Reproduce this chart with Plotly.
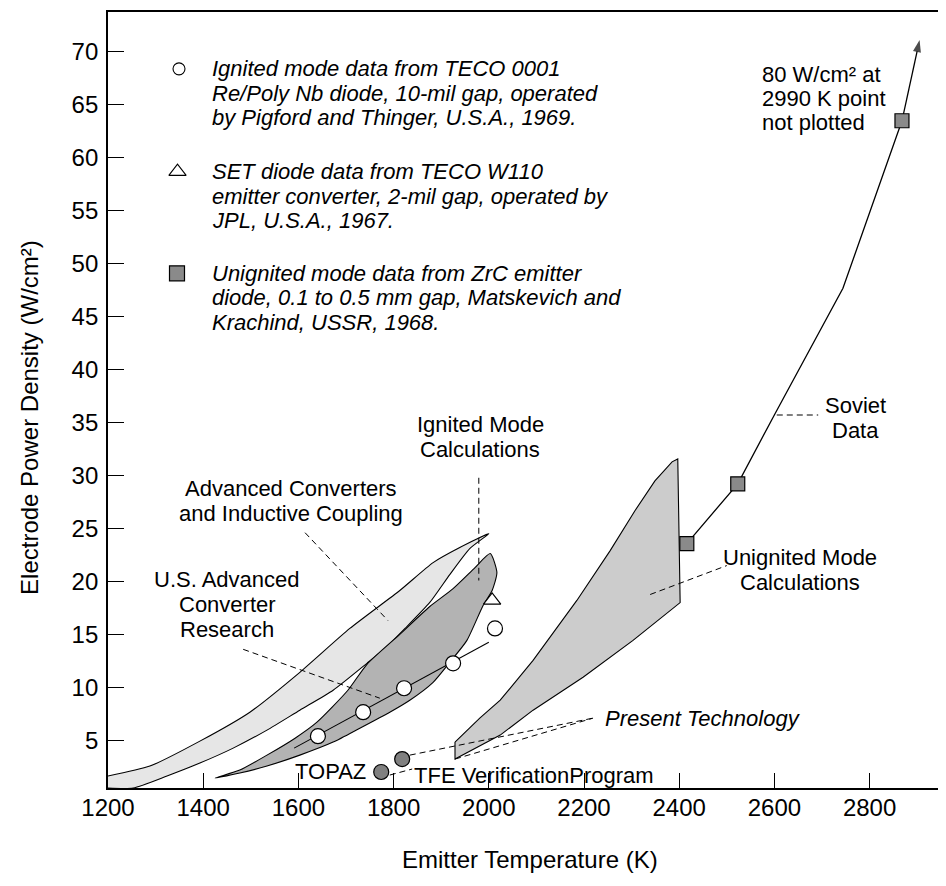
import plotly.graph_objects as go

# ---------------- data (K, W/cm^2) ----------------
x_ticks = [1200, 1400, 1600, 1800, 2000, 2200, 2400, 2600, 2800]
y_ticks = [5, 10, 15, 20, 25, 30, 35, 40, 45, 50, 55, 60, 65, 70]

# Advanced converters and inductive coupling (light band)
adv_upper_x = [1200, 1288, 1393, 1498, 1603, 1708, 1813, 1883, 1939, 2000]
adv_upper_y = [1.63, 2.57, 4.92, 7.65, 11.41, 15.55, 19.13, 21.76, 23.18, 24.49]
adv_lower_x = [1960, 1918, 1876, 1824, 1782, 1744, 1673, 1603, 1534, 1463, 1393, 1324, 1253, 1200]
adv_lower_y = [23.08, 20.63, 18.0, 15.55, 13.67, 12.26, 9.72, 7.84, 5.96, 4.26, 2.85, 1.63, 0.5, 0.5]

# Ignited mode calculations (dark band)
ign_upper_x = [1425, 1477, 1534, 1593, 1639, 1704, 1744, 1813, 1876, 1925, 1971, 2003]
ign_upper_y = [1.44, 2.19, 3.60, 5.20, 6.71, 9.72, 12.17, 14.99, 17.62, 19.31, 21.29, 22.61]
ign_lower_x = [2017, 2007, 1988, 1954, 1918, 1883, 1834, 1792, 1729, 1673, 1603, 1534, 1477, 1425]
ign_lower_y = [20.82, 19.13, 17.72, 14.42, 12.35, 10.47, 8.78, 7.65, 6.14, 4.83, 3.60, 2.57, 1.91, 1.44]

# Unignited mode calculations (medium band)
unign_upper_x = [1929, 1981, 2024, 2093, 2185, 2255, 2307, 2349, 2385, 2397]
unign_upper_y = [4.83, 7.09, 8.78, 12.54, 18.19, 22.89, 26.65, 29.47, 31.26, 31.54]
unign_lower_x = [2402, 2303, 2198, 2093, 2024, 1929, 1929]
unign_lower_y = [17.99, 14.42, 10.94, 7.84, 5.49, 3.23, 4.83]

# Ignited mode data, TECO 0001 (circles) and fit line
teco_x = [1641, 1736, 1822, 1925, 2013]
teco_y = [5.39, 7.65, 9.91, 12.26, 15.55]
teco_fit_x = [1591, 2000]
teco_fit_y = [4.26, 14.24]

# SET diode data (triangle)
set_x = [2007]
set_y = [18.19]

# Soviet data (squares) and curve
soviet_x = [2416, 2523, 2868]
soviet_y = [23.55, 29.19, 63.43]
soviet_curve_x = [2416, 2523, 2601, 2744, 2868]
soviet_curve_y = [23.55, 29.19, 35.78, 47.63, 63.43]
soviet_arrow_x = [2868, 2905]
soviet_arrow_y = [63.43, 71.06]

# Present technology points
topaz_x, topaz_y = [1774], [2.01]
tfe_x, tfe_y = [1818], [3.23]

# ---------------- layout geometry ----------------
# page coordinates of the plot area: x 108..940, y 10..788 (page body has 8px margin)
OFF = 8
W, H = 946 - OFF, 886 - OFF
PX0, PX1, PY0, PY1 = 108, 940, 10, 788
L, T = PX0 - OFF, PY0 - OFF
R, B = W - (PX1 - OFF), H - (PY1 - OFF)
PW, PH = PX1 - PX0, PY1 - PY0
X_RANGE = [1200, 1200 + PW / 0.476]
Y_RANGE = [0.5, 0.5 + PH / 10.63]
FONT = "Liberation Sans, Arial, Helvetica, sans-serif"


def P(px, py):
    return (px - PX0) / PW, (PY1 - py) / PH


fig = go.Figure()


def band(xs, ys, color, smooth):
    line = dict(color="black", width=1.1)
    if smooth:
        line.update(shape="spline", smoothing=0.6)
    fig.add_trace(go.Scatter(x=xs, y=ys, mode="lines", fill="toself", fillcolor=color,
                             line=line, hoverinfo="skip", showlegend=False))


band(adv_upper_x + adv_lower_x, adv_upper_y + adv_lower_y, "#e6e6e6", True)
band(ign_upper_x + ign_lower_x, ign_upper_y + ign_lower_y, "#b3b3b3", True)
band(unign_upper_x + unign_lower_x, unign_upper_y + unign_lower_y, "#cccccc", False)

# Fit line through TECO circles
fig.add_trace(go.Scatter(x=teco_fit_x, y=teco_fit_y, mode="lines",
                         line=dict(color="black", width=1.1), showlegend=False))
fig.add_trace(go.Scatter(x=teco_x, y=teco_y, mode="markers", showlegend=False,
                         marker=dict(symbol="circle", size=15, color="white",
                                     line=dict(color="black", width=1.2))))
fig.add_trace(go.Scatter(x=set_x, y=set_y, mode="markers", showlegend=False,
                         marker=dict(symbol="triangle-up", size=15, color="white",
                                     line=dict(color="black", width=1.2))))
# Soviet data
fig.add_trace(go.Scatter(x=soviet_curve_x, y=soviet_curve_y, mode="lines",
                         line=dict(color="black", width=1.3), showlegend=False))
fig.add_trace(go.Scatter(x=soviet_arrow_x, y=soviet_arrow_y, mode="lines+markers",
                         line=dict(color="black", width=1.3), showlegend=False,
                         marker=dict(symbol="arrow", size=[0, 13], angleref="previous",
                                     color="black", line=dict(width=0))))
fig.add_trace(go.Scatter(x=soviet_x, y=soviet_y, mode="markers", showlegend=False,
                         marker=dict(symbol="square", size=14, color="#8a8a8a",
                                     line=dict(color="black", width=1.2))))
# Present technology dashed leaders
dash_lines = [
    ([1834, 2219], [3.60, 7.09]),
    ([1929, 2219], [3.23, 7.09]),
    ([1792, 1839], [1.72, 2.29]),
]
for xs, ys in dash_lines:
    fig.add_trace(go.Scatter(x=xs, y=ys, mode="lines", showlegend=False,
                             line=dict(color="black", width=1, dash="6px,4px")))
fig.add_trace(go.Scatter(x=topaz_x + tfe_x, y=topaz_y + tfe_y, mode="markers",
                         showlegend=False,
                         marker=dict(symbol="circle", size=15, color="#808080",
                                     line=dict(color="black", width=1.2))))

# Leader lines for labels (dashed)
leaders = [
    ([1484, 1771], [13.58, 8.97]),
    ([1614, 1788], [24.58, 16.30]),
    ([1979, 1979], [29.76, 20.07]),
    ([2605, 2692], [35.68, 35.68]),
    ([2339, 2500], [18.75, 21.48]),
]
for xs, ys in leaders:
    fig.add_trace(go.Scatter(x=xs, y=ys, mode="lines", showlegend=False,
                             line=dict(color="black", width=1, dash="6px,4px")))

# Legend symbols (overlay paper-like axis)
leg_pts = [P(179, 67), P(177.5, 170), P(177, 272)]
fig.add_trace(go.Scatter(x=[leg_pts[0][0]], y=[leg_pts[0][1]], xaxis="x2", yaxis="y2",
                         mode="markers", showlegend=False,
                         marker=dict(symbol="circle", size=12, color="white",
                                     line=dict(color="black", width=1.1))))
fig.add_trace(go.Scatter(x=[leg_pts[1][0]], y=[leg_pts[1][1]], xaxis="x2", yaxis="y2",
                         mode="markers", showlegend=False,
                         marker=dict(symbol="triangle-up", size=15, color="white",
                                     line=dict(color="black", width=1.1))))
fig.add_trace(go.Scatter(x=[leg_pts[2][0]], y=[leg_pts[2][1]], xaxis="x2", yaxis="y2",
                         mode="markers", showlegend=False,
                         marker=dict(symbol="square", size=15, color="#8a8a8a",
                                     line=dict(color="black", width=1.2))))

annotations = []


def text_lines(lines, px, py0, step, anchor="center", italic=False, size=22):
    for i, s in enumerate(lines):
        x, y = P(px, py0 + i * step)
        annotations.append(dict(x=x, y=y, xref="paper", yref="paper", showarrow=False,
                                text=("<i>%s</i>" % s) if italic else s,
                                xanchor=anchor, yanchor="middle",
                                font=dict(family=FONT, size=size, color="black")))


text_lines(["Ignited mode data from TECO 0001",
            "Re/Poly Nb diode, 10-mil gap, operated",
            "by Pigford and Thinger, U.S.A., 1969."], 210, 67, 24.5, "left", True)
text_lines(["SET diode data from TECO W110",
            "emitter converter, 2-mil gap, operated by",
            "JPL, U.S.A., 1967."], 210, 170, 24.5, "left", True)
text_lines(["Unignited mode data from ZrC emitter",
            "diode, 0.1 to 0.5 mm gap, Matskevich and",
            "Krachind, USSR, 1968."], 210, 272, 24.5, "left", True)
text_lines(["U.S. Advanced", "Converter", "Research"], 227, 579, 25)
text_lines(["Advanced Converters", "and Inductive Coupling"], 291, 488, 24.5)
text_lines(["Ignited Mode", "Calculations"], 480, 424, 25)
text_lines(["Soviet", "Data"], 855, 405, 25)
text_lines(["Unignited Mode", "Calculations"], 800, 557, 25)
text_lines(["80 W/cm² at", "2990 K point", "not plotted"], 760, 73, 24, "left")
text_lines(["TOPAZ"], 368, 771, 0, "right")
text_lines(["TFE VerificationProgram"], 412, 775, 0, "left")
text_lines(["Present Technology"], 603, 718, 0, "left", True)

# Axis titles
x, y = P(530, 860)
annotations.append(dict(x=x, y=y, xref="paper", yref="paper", showarrow=False,
                        text="Emitter Temperature (K)", xanchor="center", yanchor="middle",
                        font=dict(family=FONT, size=24, color="black")))
x, y = P(30, 417)
annotations.append(dict(x=x, y=y, xref="paper", yref="paper", showarrow=False,
                        text="Electrode Power Density (W/cm²)", textangle=-90,
                        xanchor="center", yanchor="middle",
                        font=dict(family=FONT, size=24, color="black")))

fig.update_layout(
    width=W, height=H,
    margin=dict(l=L, r=R, t=T, b=B),
    paper_bgcolor="white", plot_bgcolor="white",
    showlegend=False,
    font=dict(family=FONT, size=24, color="black"),
    xaxis=dict(range=X_RANGE, tickvals=x_ticks, ticks="inside", ticklen=15, tickwidth=1.3,
               tickcolor="black", showline=True, linecolor="black", linewidth=1.8,
               mirror=True, showgrid=False, zeroline=False,
               tickfont=dict(family=FONT, size=24), ticklabelstandoff=-3),
    yaxis=dict(range=Y_RANGE, tickvals=y_ticks, ticks="inside", ticklen=16, tickwidth=1.3,
               tickcolor="black", showline=True, linecolor="black", linewidth=1.8,
               showgrid=False, zeroline=False,
               tickfont=dict(family=FONT, size=24), ticklabelstandoff=3),
    xaxis2=dict(range=[0, 1], overlaying="x", visible=False, fixedrange=True),
    yaxis2=dict(range=[0, 1], overlaying="y", visible=False, fixedrange=True),
    annotations=annotations,
)

fig.write_html("out.html")
